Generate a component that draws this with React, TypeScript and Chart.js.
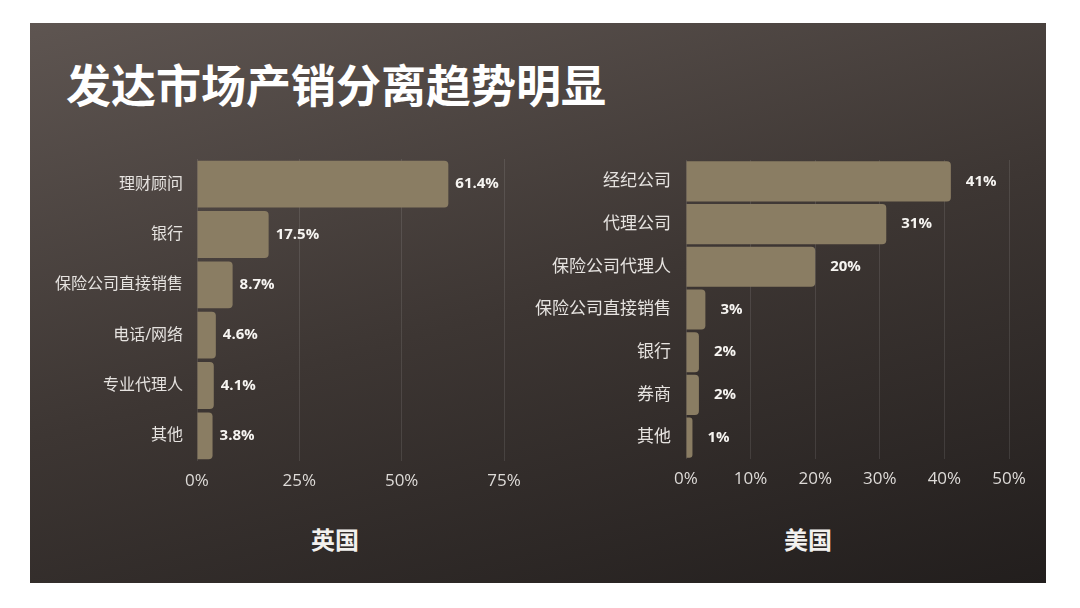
import React, { useEffect, useRef } from "react";
import { Chart, registerables } from "chart.js";

Chart.register(...registerables);

const titleText = "发达市场产销分离趋势明显";

const ukName = "英国";
const ukCategories = ["理财顾问", "银行", "保险公司直接销售", "电话/网络", "专业代理人", "其他"];
const ukValues = [61.4, 17.5, 8.7, 4.6, 4.1, 3.8];
const ukMax = 75;
const ukStep = 25;

const usName = "美国";
const usCategories = ["经纪公司", "代理公司", "保险公司代理人", "保险公司直接销售", "银行", "券商", "其他"];
const usValues = [41, 31, 20, 3, 2, 2, 1];
const usMax = 50;
const usStep = 10;

const BAR_COLOR = "#8a7d63";
const LATIN = '"Open Sans", "Noto Sans CJK SC", sans-serif';

type PanelProps = {
  labels: string[];
  values: number[];
  max: number;
  step: number;
  decimals: number;
  left: number;
  top: number;
  width: number;
  height: number;
  yWidth: number;
  yFont: number;
  yPad: number;
  padTop: number;
  padRight: number;
  labelOffset: number;
  barPct: number;
};

function makeLabelPlugin(values: number[], decimals: number, offset: number) {
  return {
    id: "valueLabels",
    afterDatasetsDraw(chart: any) {
      const ctx = chart.ctx;
      const meta = chart.getDatasetMeta(0);
      ctx.save();
      ctx.font = "bold 15px " + LATIN;
      ctx.fillStyle = "#f6f4f1";
      ctx.textAlign = "left";
      ctx.textBaseline = "middle";
      meta.data.forEach((el: any, i: number) => {
        ctx.fillText(values[i].toFixed(decimals) + "%", el.x + offset, el.y);
      });
      ctx.restore();
    },
  };
}

function BarPanel(p: PanelProps) {
  const ref = useRef<HTMLCanvasElement | null>(null);
  useEffect(() => {
    if (!ref.current) return;
    const chart = new Chart(ref.current, {
      type: "bar",
      data: {
        labels: p.labels,
        datasets: [
          {
            data: p.values,
            backgroundColor: BAR_COLOR,
            borderRadius: 4,
            categoryPercentage: 1,
            barPercentage: p.barPct,
          },
        ],
      },
      options: {
        indexAxis: "y",
        responsive: false,
        animation: false,
        devicePixelRatio: 1,
        layout: { padding: { top: p.padTop, right: p.padRight, bottom: 0, left: 0 } },
        plugins: { legend: { display: false }, tooltip: { enabled: false }, title: { display: false } },
        scales: {
          x: {
            type: "linear",
            min: 0,
            max: p.max,
            ticks: {
              stepSize: p.step,
              color: "#dedbd8",
              font: { family: LATIN, size: 17 },
              padding: 10,
              callback: (v: any) => v + "%",
            },
            grid: { color: "rgba(255,255,255,0.10)", drawTicks: false, lineWidth: 1 },
            border: { display: false },
            afterFit: (s: any) => {
              s.height = 30;
              s.paddingTop = 0;
              s.paddingBottom = 0;
            },
          },
          y: {
            type: "category",
            ticks: {
              color: "#e6e3e0",
              font: { family: LATIN, size: p.yFont },
              padding: p.yPad,
            },
            grid: { display: false, drawTicks: false },
            border: { display: false },
            afterFit: (s: any) => {
              s.width = p.yWidth;
              s.paddingTop = 0;
              s.paddingBottom = 0;
            },
          },
        },
      } as any,
      plugins: [makeLabelPlugin(p.values, p.decimals, p.labelOffset)],
    });
    return () => chart.destroy();
  }, []);
  return (
    <div style={{ position: "absolute", left: p.left, top: p.top, width: p.width, height: p.height }}>
      <canvas ref={ref} width={p.width} height={p.height} style={{ width: p.width, height: p.height, display: "block" }} />
    </div>
  );
}

export default function App() {
  const subStyle: React.CSSProperties = {
    position: "absolute",
    width: 100,
    top: 526,
    textAlign: "center",
    fontFamily: '"Noto Sans CJK SC", sans-serif',
    fontWeight: 700,
    fontSize: 24,
    lineHeight: "26px",
    color: "#f2f0ee",
  };
  return (
    <div style={{ position: "fixed", left: 0, top: 0, width: 1080, height: 608, background: "#ffffff", overflow: "hidden" }}>
      <div
        style={{
          position: "absolute",
          left: 30,
          top: 23,
          width: 1016,
          height: 560,
          background: "linear-gradient(165deg, #5e5551 0%, #3d3633 50%, #221e1d 100%)",
        }}
      />
      <div
        style={{
          position: "absolute",
          left: 66,
          top: 61,
          fontFamily: '"Noto Sans CJK SC", sans-serif',
          fontWeight: 700,
          fontSize: 45,
          lineHeight: "45px",
          color: "#ffffff",
          whiteSpace: "nowrap",
        }}
      >
        {titleText}
      </div>
      <BarPanel
        labels={ukCategories}
        values={ukValues}
        max={ukMax}
        step={ukStep}
        decimals={1}
        left={40}
        top={150}
        width={500}
        height={341}
        yWidth={157}
        yFont={16}
        yPad={14}
        padTop={9}
        padRight={36}
        labelOffset={7}
        barPct={0.93}
      />
      <BarPanel
        labels={usCategories}
        values={usValues}
        max={usMax}
        step={usStep}
        decimals={0}
        left={530}
        top={150}
        width={515}
        height={339}
        yWidth={156}
        yFont={17}
        yPad={15}
        padTop={10}
        padRight={36}
        labelOffset={15}
        barPct={0.94}
      />
      <div style={{ ...subStyle, left: 285 }}>{ukName}</div>
      <div style={{ ...subStyle, left: 758 }}>{usName}</div>
    </div>
  );
}
